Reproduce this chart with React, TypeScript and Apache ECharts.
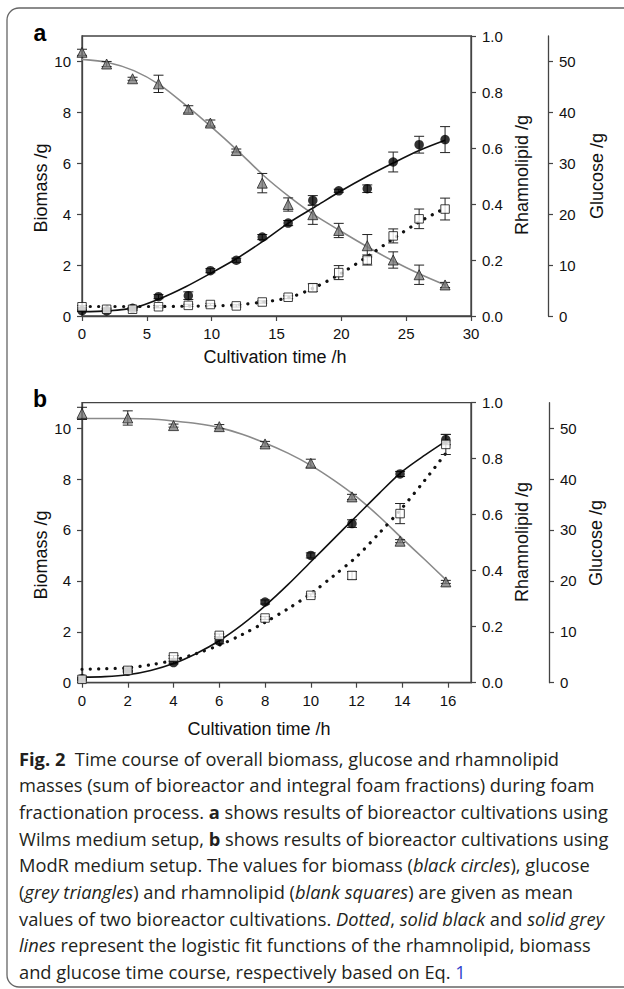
import React, { useEffect, useRef } from "react";
import * as echarts from "echarts";

// ---------- Panel a (Wilms medium) ----------
const timesA = [0, 1.9, 3.9, 5.9, 8.2, 9.9, 11.9, 13.9, 15.9, 17.8, 19.8, 22, 24, 26, 28];
const biomassA = [0.21, 0.2, 0.3, 0.76, 0.8, 1.78, 2.19, 3.1, 3.65, 4.54, 4.92, 5.0, 6.05, 6.73, 6.93];
const biomassErrA = [0.03, 0.03, 0.03, 0.08, 0.15, 0.08, 0.08, 0.1, 0.1, 0.19, 0.06, 0.15, 0.39, 0.33, 0.51];
const glucoseA = [51.8, 49.5, 46.6, 45.6, 40.6, 37.9, 32.5, 26.1, 21.9, 19.9, 16.8, 13.8, 11.0, 8.1, 6.1];
const glucoseErrA = [0.6, 0.5, 0.3, 1.7, 0.7, 0.6, 0.3, 1.9, 1.3, 1.9, 1.4, 2.2, 1.6, 1.9, 0.5];
const rhamnoA = [0.033, 0.024, 0.024, 0.033, 0.038, 0.041, 0.036, 0.05, 0.067, 0.101, 0.155, 0.2, 0.286, 0.347, 0.382];
const rhamnoErrA = [0.004, 0.004, 0.004, 0.004, 0.004, 0.004, 0.004, 0.004, 0.005, 0.014, 0.025, 0.018, 0.025, 0.035, 0.039];

const fitTimesA = [0, 2, 4, 6, 8, 10, 12, 14, 16, 18, 20, 22, 24, 26, 28];
const fitBiomassA = [0.17, 0.2, 0.32, 0.68, 1.15, 1.7, 2.28, 2.95, 3.68, 4.3, 4.92, 5.49, 6.01, 6.5, 6.9];
const fitGlucoseA = [50.4, 49.8, 48.2, 45.4, 41.4, 37.1, 32.5, 27.6, 23.4, 19.7, 16.6, 13.6, 10.8, 8.3, 6.1];
const fitRhamnoA = [0.034, 0.034, 0.034, 0.034, 0.035, 0.036, 0.04, 0.05, 0.066, 0.103, 0.153, 0.212, 0.276, 0.336, 0.385];

// ---------- Panel b (ModR medium) ----------
const timesB = [0, 2, 4, 6, 8, 10, 11.8, 13.9, 15.9];
const biomassB = [0.16, 0.45, 0.79, 1.63, 3.17, 5.0, 6.25, 8.2, 9.55];
const biomassErrB = [0.03, 0.03, 0.05, 0.1, 0.08, 0.1, 0.15, 0.1, 0.2];
const glucoseB = [52.9, 52.0, 50.5, 50.3, 46.9, 43.1, 36.5, 27.8, 19.8];
const glucoseErrB = [1.2, 1.4, 0.3, 0.4, 0.5, 0.8, 0.5, 0.3, 0.3];
const rhamnoB = [0.012, 0.044, 0.092, 0.169, 0.231, 0.312, 0.383, 0.604, 0.851];
const rhamnoErrB = [0.005, 0.005, 0.005, 0.005, 0.005, 0.005, 0.014, 0.036, 0.036];

const fitTimesB = [0, 1, 2, 3, 4, 5, 6, 7, 8, 9, 10, 11, 12, 13, 14, 15, 16];
const fitBiomassB = [0.22, 0.24, 0.31, 0.48, 0.75, 1.15, 1.65, 2.28, 3.02, 3.85, 4.75, 5.65, 6.55, 7.45, 8.3, 8.95, 9.55];
const fitGlucoseB = [51.9, 51.9, 51.9, 51.8, 51.4, 50.9, 50.1, 48.8, 47.1, 45.1, 42.7, 39.8, 36.5, 32.6, 28.3, 24.1, 19.8];
const fitRhamnoB = [0.048, 0.05, 0.053, 0.064, 0.08, 0.104, 0.134, 0.172, 0.216, 0.264, 0.318, 0.382, 0.45, 0.535, 0.625, 0.725, 0.83];

// ---------- Axis ticks ----------
const xTicksA = [0, 5, 10, 15, 20, 25, 30];
const xTicksB = [0, 2, 4, 6, 8, 10, 12, 14, 16];
const biomassTicks = [0, 2, 4, 6, 8, 10];
const rhamnoTicks = [0, 0.2, 0.4, 0.6, 0.8, 1.0];
const glucoseTicks = [0, 10, 20, 30, 40, 50];

// ---------- Caption ----------
const captionLines: [string, string][][] = [
  [["b", "Fig. 2"], ["n", "  Time course of overall biomass, glucose and rhamnolipid"]],
  [["n", "masses (sum of bioreactor and integral foam fractions) during foam"]],
  [["n", "fractionation process. "], ["b", "a"], ["n", " shows results of bioreactor cultivations using"]],
  [["n", "Wilms medium setup, "], ["b", "b"], ["n", " shows results of bioreactor cultivations using"]],
  [["n", "ModR medium setup. The values for biomass ("], ["i", "black circles"], ["n", "), glucose"]],
  [["n", "("], ["i", "grey triangles"], ["n", ") and rhamnolipid ("], ["i", "blank squares"], ["n", ") are given as mean"]],
  [["n", "values of two bioreactor cultivations. "], ["i", "Dotted"], ["n", ", "], ["i", "solid black"], ["n", " and "], ["i", "solid grey"]],
  [["i", "lines"], ["n", " represent the logistic fit functions of the rhamnolipid, biomass"]],
  [["n", "and glucose time course, respectively based on Eq. "], ["l", "1"]],
];

const FONT = "Liberation Sans, Arial, sans-serif";
const CAP_FONT = "Open Sans, Noto Sans, sans-serif";
const CAP_SIZE = 18.3;
const AXIS_COLOR = "#444";
const TEXT_COLOR = "#111";

const GRID_LEFT = 82;
const GRID_W = 389;
const GRID_H = 280;
const GRID_TOPS = [36, 402.7];

function pairs(xs: number[], ys: number[]) {
  return xs.map((x, i) => [x, ys[i]]);
}

function errorSeries(times: number[], vals: number[], errs: number[], xAxisIndex: number, yAxisIndex: number) {
  return {
    type: "custom",
    xAxisIndex,
    yAxisIndex,
    z: 3,
    silent: true,
    clip: false,
    data: times.map((t, i) => [t, vals[i] - errs[i], vals[i] + errs[i]]),
    encode: { x: 0, y: [1, 2] },
    renderItem: (_params: any, api: any) => {
      const lo = api.coord([api.value(0), api.value(1)]);
      const hi = api.coord([api.value(0), api.value(2)]);
      const w = 5;
      const style = { stroke: "#222", lineWidth: 1 };
      return {
        type: "group",
        children: [
          { type: "line", shape: { x1: lo[0], y1: lo[1], x2: hi[0], y2: hi[1] }, style },
          { type: "line", shape: { x1: lo[0] - w, y1: lo[1], x2: lo[0] + w, y2: lo[1] }, style },
          { type: "line", shape: { x1: hi[0] - w, y1: hi[1], x2: hi[0] + w, y2: hi[1] }, style },
        ],
      };
    },
  };
}

function fitLine(xs: number[], ys: number[], xAxisIndex: number, yAxisIndex: number, kind: "black" | "grey" | "dot") {
  const lineStyle =
    kind === "black"
      ? { color: "#111", width: 1.6 }
      : kind === "grey"
      ? { color: "#8a8a8a", width: 1.6 }
      : { color: "#111", width: 3.2, type: [0.1, 8.2], cap: "round" };
  return {
    type: "line",
    xAxisIndex,
    yAxisIndex,
    data: pairs(xs, ys),
    showSymbol: false,
    smooth: 0.3,
    z: 2,
    silent: true,
    lineStyle,
  };
}

function markers(xs: number[], ys: number[], xAxisIndex: number, yAxisIndex: number, kind: "circle" | "tri" | "sq") {
  const base: any = { type: "scatter", xAxisIndex, yAxisIndex, data: pairs(xs, ys), z: 4, silent: true };
  if (kind === "circle") {
    return { ...base, symbol: "circle", symbolSize: 9.5, itemStyle: { color: "#000" } };
  }
  if (kind === "tri") {
    return { ...base, symbol: "triangle", symbolSize: 10, itemStyle: { color: "#7d7d7d", borderColor: "#222", borderWidth: 1 } };
  }
  return { ...base, symbol: "rect", symbolSize: 8.5, itemStyle: { color: "#fff", borderColor: "#111", borderWidth: 1 } };
}

function xAxis(gridIndex: number, max: number, interval: number, ticks: number[]) {
  return {
    type: "value",
    gridIndex,
    min: 0,
    max,
    interval,
    position: "bottom",
    axisLine: { show: true, lineStyle: { color: AXIS_COLOR, width: 1.3 } },
    axisTick: { show: true, length: 5, inside: false, customValues: ticks, lineStyle: { color: AXIS_COLOR, width: 1.2 } },
    axisLabel: { show: true, margin: 10, customValues: ticks, fontFamily: FONT, fontSize: 15, color: TEXT_COLOR },
    splitLine: { show: false },
  };
}

function yAxis(gridIndex: number, max: number, interval: number, ticks: number[], position: "left" | "right", offset: number, fmt?: (v: number) => string) {
  return {
    type: "value",
    gridIndex,
    min: 0,
    max,
    interval,
    position,
    offset,
    axisLine: { show: true, onZero: false, lineStyle: { color: AXIS_COLOR, width: 1.3 } },
    axisTick: { show: true, length: 5, inside: false, customValues: ticks, lineStyle: { color: AXIS_COLOR, width: 1.2 } },
    axisLabel: {
      show: true,
      margin: 11,
      customValues: ticks,
      fontFamily: FONT,
      fontSize: 15,
      color: TEXT_COLOR,
      formatter: fmt ? (v: number) => fmt(v) : undefined,
    },
    splitLine: { show: false },
  };
}

function axisTitle(text: string, x: number, y: number, vertical: boolean) {
  return {
    type: "text",
    x,
    y,
    rotation: vertical ? Math.PI / 2 : 0,
    silent: true,
    style: {
      text,
      fontFamily: FONT,
      fontSize: 18,
      fill: TEXT_COLOR,
      align: "center",
      verticalAlign: "middle",
    },
  };
}

function captionGraphic() {
  const rich: any = {
    n: { fontFamily: CAP_FONT, fontSize: CAP_SIZE, fill: "#231f20" },
    b: { fontFamily: CAP_FONT, fontSize: CAP_SIZE, fontWeight: "bold", fill: "#231f20" },
    i: { fontFamily: CAP_FONT, fontSize: CAP_SIZE, fontStyle: "italic", fill: "#231f20" },
    l: { fontFamily: CAP_FONT, fontSize: CAP_SIZE, fill: "#3344cc" },
  };
  const y0 = 758.3;
  const dy = 26.67;
  return captionLines.map((segs, i) => ({
    type: "text",
    x: 19,
    y: y0 + i * dy,
    silent: true,
    style: {
      text: segs.map(([k, t]) => `{${k}|${t}}`).join(""),
      rich,
      align: "left",
      verticalAlign: "middle",
    },
  }));
}

export default function App() {
  const ref = useRef<HTMLDivElement>(null);

  useEffect(() => {
    if (!ref.current) return;
    const chart = echarts.init(ref.current, undefined, { renderer: "svg" });
    const fmt1 = (v: number) => v.toFixed(1);

    const option: any = {
      animation: false,
      backgroundColor: "#fff",
      grid: GRID_TOPS.map((top) => ({
        left: GRID_LEFT,
        top,
        width: GRID_W,
        height: GRID_H,
        show: true,
        borderColor: AXIS_COLOR,
        borderWidth: 1.3,
        backgroundColor: "transparent",
        containLabel: false,
      })),
      xAxis: [xAxis(0, 30, 5, xTicksA), xAxis(1, 17, 2, xTicksB)],
      yAxis: [
        yAxis(0, 11, 2, biomassTicks, "left", 0),
        yAxis(0, 1, 0.2, rhamnoTicks, "right", 0, fmt1),
        yAxis(0, 55, 10, glucoseTicks, "right", 77),
        yAxis(1, 11, 2, biomassTicks, "left", 0),
        yAxis(1, 1, 0.2, rhamnoTicks, "right", 0, fmt1),
        yAxis(1, 55, 10, glucoseTicks, "right", 78),
      ],
      series: [
        // panel a
        fitLine(fitTimesA, fitGlucoseA, 0, 2, "grey"),
        fitLine(fitTimesA, fitBiomassA, 0, 0, "black"),
        fitLine(fitTimesA, fitRhamnoA, 0, 1, "dot"),
        errorSeries(timesA, glucoseA, glucoseErrA, 0, 2),
        errorSeries(timesA, biomassA, biomassErrA, 0, 0),
        errorSeries(timesA, rhamnoA, rhamnoErrA, 0, 1),
        markers(timesA, glucoseA, 0, 2, "tri"),
        markers(timesA, biomassA, 0, 0, "circle"),
        markers(timesA, rhamnoA, 0, 1, "sq"),
        // panel b
        fitLine(fitTimesB, fitGlucoseB, 1, 5, "grey"),
        fitLine(fitTimesB, fitBiomassB, 1, 3, "black"),
        fitLine(fitTimesB, fitRhamnoB, 1, 4, "dot"),
        errorSeries(timesB, glucoseB, glucoseErrB, 1, 5),
        errorSeries(timesB, biomassB, biomassErrB, 1, 3),
        errorSeries(timesB, rhamnoB, rhamnoErrB, 1, 4),
        markers(timesB, glucoseB, 1, 5, "tri"),
        markers(timesB, biomassB, 1, 3, "circle"),
        markers(timesB, rhamnoB, 1, 4, "sq"),
      ],
      graphic: [
        {
          type: "rect",
          silent: true,
          shape: { x: 7, y: 8, width: 650, height: 979, r: 12 },
          style: { fill: "none", stroke: "#666", lineWidth: 1.3 },
          z: -1,
        },
        {
          type: "text",
          x: 40,
          y: 33,
          silent: true,
          style: { text: "a", fontFamily: FONT, fontSize: 23, fontWeight: "bold", fill: "#000", align: "center", verticalAlign: "middle" },
        },
        {
          type: "text",
          x: 40,
          y: 399,
          silent: true,
          style: { text: "b", fontFamily: FONT, fontSize: 23, fontWeight: "bold", fill: "#000", align: "center", verticalAlign: "middle" },
        },
        axisTitle("Biomass /g", 41, 188, true),
        axisTitle("Rhamnolipid /g", 522, 175, true),
        axisTitle("Glucose /g", 597, 176, true),
        axisTitle("Cultivation time /h", 275, 357, false),
        axisTitle("Biomass /g", 41, 555, true),
        axisTitle("Rhamnolipid /g", 522, 542, true),
        axisTitle("Glucose /g", 596, 543, true),
        axisTitle("Cultivation time /h", 259, 729, false),
        ...captionGraphic(),
      ],
    };

    chart.setOption(option);
    return () => chart.dispose();
  }, []);

  return (
    <div
      ref={ref}
      style={{ position: "fixed", left: 0, top: 0, width: 624, height: 989, background: "#fff" }}
    />
  );
}
